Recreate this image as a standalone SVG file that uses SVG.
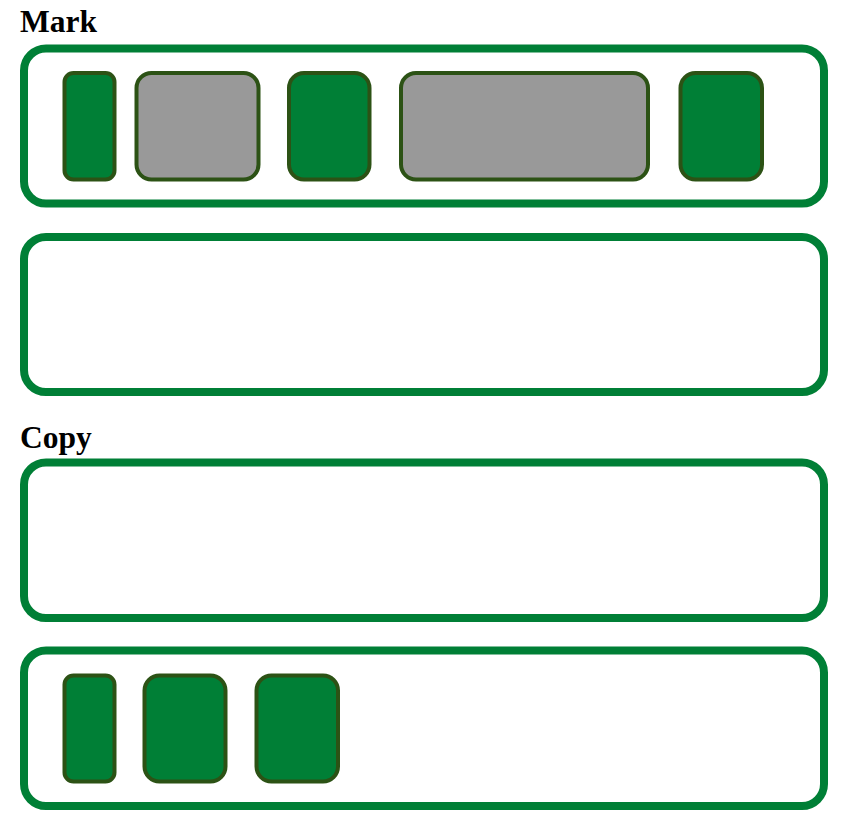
<svg xmlns="http://www.w3.org/2000/svg" width="848" height="832" viewBox="0 0 848 832">
<style>
.lbl{font-family:"Liberation Serif","Times New Roman",serif;font-weight:bold;font-size:31.5px;fill:#000}
.box{fill:#fff;stroke:#007f36;stroke-width:8}
.g{fill:#007f36;stroke:#2c5215;stroke-width:4}
.s{fill:#999999;stroke:#2c5215;stroke-width:4}
</style>
<rect width="848" height="832" fill="#fff"/>
<text class="lbl" x="20" y="32">Mark</text>
<text class="lbl" x="20" y="447.5">Copy</text>
<g id="mark-row1">
<rect class="box" x="24" y="48.5" width="800" height="155" rx="22"/>
<g id="m1"><rect class="g" x="64.5" y="73" width="50" height="106.5" rx="9"/></g>
<g id="m2"><rect class="s" x="136.5" y="73" width="122" height="106.5" rx="15"/></g>
<g id="m3"><rect class="g" x="289" y="73" width="80.5" height="106.5" rx="15"/></g>
<g id="m4"><rect class="s" x="401" y="73" width="247" height="106.5" rx="15"/></g>
<g id="m5"><rect class="g" x="680.5" y="73" width="81.5" height="106.5" rx="15"/></g>
</g>
<g id="mark-row2">
<rect class="box" x="24" y="237" width="800" height="155" rx="22"/>
</g>
<g id="copy-row1">
<rect class="box" x="24" y="462.5" width="800" height="155.5" rx="22"/>
</g>
<g id="copy-row2">
<rect class="box" x="24" y="650.5" width="800" height="155.5" rx="22"/>
<g id="c1"><rect class="g" x="64.5" y="675.5" width="50" height="106" rx="9"/></g>
<g id="c2"><rect class="g" x="144.5" y="675.5" width="81" height="106" rx="15"/></g>
<g id="c3"><rect class="g" x="256.5" y="675.5" width="81.5" height="106" rx="15"/></g>
</g>
<g id="connectors"></g>
</svg>
